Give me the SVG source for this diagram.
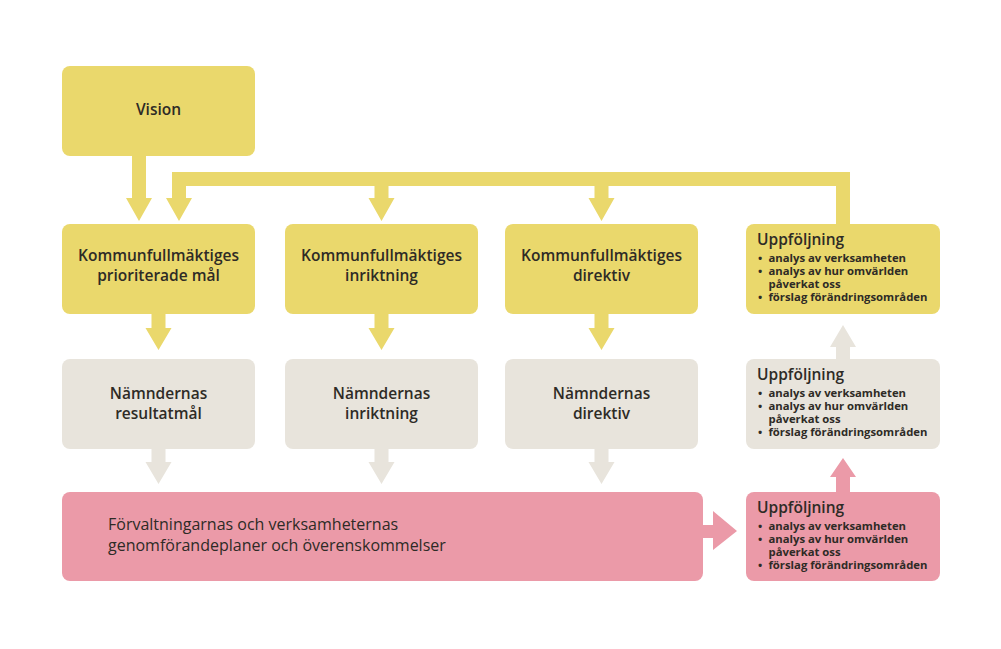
<svg xmlns="http://www.w3.org/2000/svg" width="1001" height="649" viewBox="0 0 1001 649">
<style>
.y{fill:#EAD86C}
.g{fill:#E8E4DC}
.p{fill:#EB9AA8}
text{font-family:"Open Sans","Noto Sans","Liberation Sans",sans-serif;fill:#2e2b26}
.t{font-size:15.5px;font-weight:600;text-anchor:middle}
.l{font-size:16px;font-weight:500}
.h{font-size:15.5px;font-weight:600}
.b{font-size:11.3px;font-weight:700}
</style>
<rect width="1001" height="649" fill="#fff"/>
<g id="connectors">
<polygon class="y" points="132,156 146,156 146,198 152,198 139,221 126,198 132,198"/>
<path class="y" d="M850 224 V172 H172 V198 H166 L179 221 L192 198 H186 V186 H836 V224 Z"/>
<polygon class="y" points="374.5,185 388.5,185 388.5,198 394.5,198 381.5,221 368.5,198 374.5,198"/>
<polygon class="y" points="594.5,185 608.5,185 608.5,198 614.5,198 601.5,221 588.5,198 594.5,198"/>
<polygon class="y" points="151.5,314 165.5,314 165.5,328 171.5,328 158.5,350 145.5,328 151.5,328"/>
<polygon class="y" points="374.5,314 388.5,314 388.5,328 394.5,328 381.5,350 368.5,328 374.5,328"/>
<polygon class="y" points="594.5,314 608.5,314 608.5,328 614.5,328 601.5,350 588.5,328 594.5,328"/>
<polygon class="g" points="151.5,449 165.5,449 165.5,462 171.5,462 158.5,484 145.5,462 151.5,462"/>
<polygon class="g" points="374.5,449 388.5,449 388.5,462 394.5,462 381.5,484 368.5,462 374.5,462"/>
<polygon class="g" points="594.5,449 608.5,449 608.5,462 614.5,462 601.5,484 588.5,462 594.5,462"/>
<polygon class="g" points="836,359 850,359 850,347 856,347 843,325 830,347 836,347"/>
<polygon class="p" points="836,492 850,492 850,477 856,477 843,458 830,477 836,477"/>
<polygon class="p" points="703,525 713,525 713,511 737,531 713,550 713,538 703,538"/>
</g>
<g id="vision">
<rect class="y" x="62" y="66" width="193" height="90" rx="8"/>
<text class="t" x="158.5" y="115">Vision</text>
</g>
<g id="kf-mal">
<rect class="y" x="62" y="224" width="193" height="90" rx="8"/>
<text class="t" x="158.5" y="261">Kommunfullmäktiges</text>
<text class="t" x="158.5" y="281">prioriterade mål</text>
</g>
<g id="kf-inriktning">
<rect class="y" x="285" y="224" width="193" height="90" rx="8"/>
<text class="t" x="381.5" y="261">Kommunfullmäktiges</text>
<text class="t" x="381.5" y="281">inriktning</text>
</g>
<g id="kf-direktiv">
<rect class="y" x="505" y="224" width="193" height="90" rx="8"/>
<text class="t" x="601.5" y="261">Kommunfullmäktiges</text>
<text class="t" x="601.5" y="281">direktiv</text>
</g>
<g id="upp-1">
<rect class="y" x="746" y="224" width="194" height="90" rx="8"/>
<text class="h" x="757" y="245">Uppföljning</text>
<text class="b" x="758" y="262">•</text><text class="b" x="768.5" y="262">analys av verksamheten</text>
<text class="b" x="758" y="275">•</text><text class="b" x="768.5" y="275">analys av hur omvärlden</text>
<text class="b" x="768.5" y="288">påverkat oss</text>
<text class="b" x="758" y="301">•</text><text class="b" x="768.5" y="301">förslag förändringsområden</text>
</g>
<g id="n-resultatmal">
<rect class="g" x="62" y="359" width="193" height="90" rx="8"/>
<text class="t" x="158.5" y="398.5">Nämndernas</text>
<text class="t" x="158.5" y="418.5">resultatmål</text>
</g>
<g id="n-inriktning">
<rect class="g" x="285" y="359" width="193" height="90" rx="8"/>
<text class="t" x="381.5" y="398.5">Nämndernas</text>
<text class="t" x="381.5" y="418.5">inriktning</text>
</g>
<g id="n-direktiv">
<rect class="g" x="505" y="359" width="193" height="90" rx="8"/>
<text class="t" x="601.5" y="398.5">Nämndernas</text>
<text class="t" x="601.5" y="418.5">direktiv</text>
</g>
<g id="upp-2">
<rect class="g" x="746" y="359" width="194" height="90" rx="8"/>
<text class="h" x="757" y="380">Uppföljning</text>
<text class="b" x="758" y="397">•</text><text class="b" x="768.5" y="397">analys av verksamheten</text>
<text class="b" x="758" y="410">•</text><text class="b" x="768.5" y="410">analys av hur omvärlden</text>
<text class="b" x="768.5" y="423">påverkat oss</text>
<text class="b" x="758" y="436">•</text><text class="b" x="768.5" y="436">förslag förändringsområden</text>
</g>
<g id="forvaltning">
<rect class="p" x="62" y="492" width="641" height="89" rx="8"/>
<text class="l" x="108" y="530">Förvaltningarnas och verksamheternas</text>
<text class="l" x="108" y="551">genomförandeplaner och överenskommelser</text>
</g>
<g id="upp-3">
<rect class="p" x="746" y="492" width="194" height="89" rx="8"/>
<text class="h" x="757" y="513">Uppföljning</text>
<text class="b" x="758" y="530">•</text><text class="b" x="768.5" y="530">analys av verksamheten</text>
<text class="b" x="758" y="543">•</text><text class="b" x="768.5" y="543">analys av hur omvärlden</text>
<text class="b" x="768.5" y="556">påverkat oss</text>
<text class="b" x="758" y="569">•</text><text class="b" x="768.5" y="569">förslag förändringsområden</text>
</g>
</svg>
